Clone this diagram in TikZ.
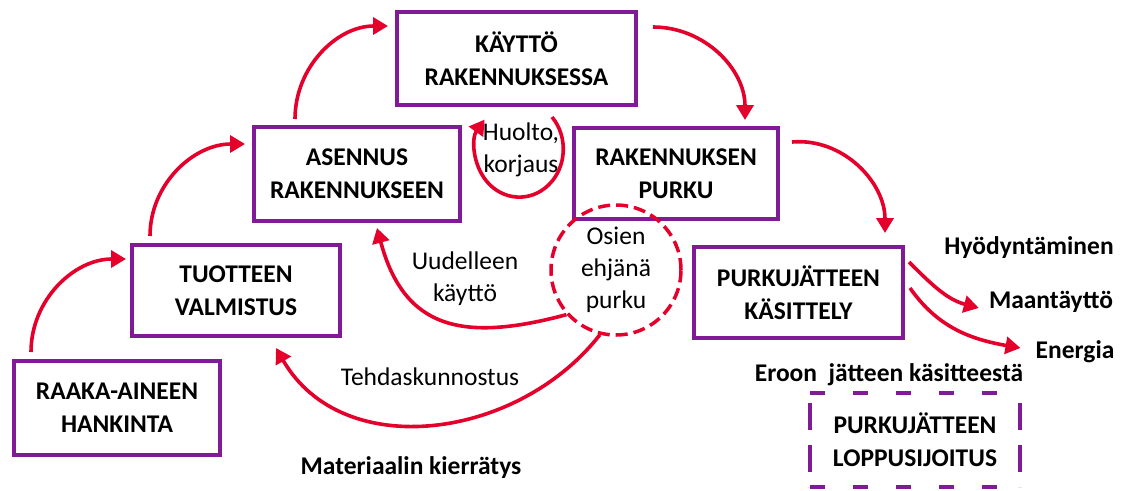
\documentclass[tikz,border=0pt]{standalone}
\usepackage{fontspec}
\setmainfont{Carlito}
\usetikzlibrary{arrows.meta}
\definecolor{purp}{RGB}{128,26,151}
\definecolor{flow}{RGB}{228,0,43}

\begin{document}
\begin{tikzpicture}[x=1pt,y=1pt,
  stage/.style={draw=purp, line width=4pt, inner sep=0pt, align=center,
    font=\fontsize{25.5}{33}\selectfont\bfseries},
  lbl/.style={inner sep=0pt, align=center, font=\fontsize{25.5}{32}\selectfont},
  lblb/.style={inner sep=0pt, align=center, font=\fontsize{25.5}{32}\selectfont\bfseries},
  arr/.style={draw=flow, line width=3.6pt, -{Triangle[length=15pt,width=17pt]}},
  purpdash/.style={draw=purp, line width=4.5pt},
]
\useasboundingbox (0,0) rectangle (1126,-490);

% life-cycle stages
\node[stage, minimum width=239pt, minimum height=93pt] (kaytto) at (516.5,-58.5) {KÄYTTÖ\\RAKENNUKSESSA};
\node[stage, minimum width=206pt, minimum height=94pt] (asennus) at (357,-174) {ASENNUS\\RAKENNUKSEEN};
\node[stage, minimum width=204pt, minimum height=91pt] (purku) at (676,-173.5) {RAKENNUKSEN\\PURKU};
\node[stage, minimum width=208pt, minimum height=91pt] (tuote) at (236,-290.5) {TUOTTEEN\\VALMISTUS};
\node[stage, minimum width=209pt, minimum height=91pt] (kasittely) at (798.5,-292.5) {PURKUJÄTTEEN\\KÄSITTELY};
\node[stage, minimum width=206pt, minimum height=94pt] (raaka) at (117,-408) {RAAKA-AINEEN\\HANKINTA};

% final disposal, dashed outline drawn side by side
\node[stage, draw=none, minimum width=206pt, minimum height=90pt] (loppu) at (915,-440) {PURKUJÄTTEEN\\LOPPUSIJOITUS};
\draw[purpdash, dash pattern=on 15pt off 28pt] (loppu.north west) -- (loppu.north east);
\draw[purpdash, dash pattern=on 15pt off 28pt] (loppu.south west) -- (loppu.south east);
\draw[purpdash, dash pattern=on 27pt off 15pt] ([yshift=-10pt]loppu.north west) -- (loppu.south west);
\draw[purpdash, dash pattern=on 27pt off 15pt] ([yshift=-10pt]loppu.north east) -- (loppu.south east);

% selective dismantling
\node[lbl, circle, draw=flow, line width=3.5pt, dash pattern=on 12pt off 6pt,
  minimum size=130pt] (osien) at (616,-270) {Osien\\ehjänä\\purku};

% labels
\node[lbl] (huolto) at (521,-150) {Huolto,\\korjaus};
\node[lbl] (uud) at (465,-279) {Uudelleen\\käyttö};
\node[lbl] (tehd) at (430,-377) {Tehdaskunnostus};
\node[lblb] (hyo) at (1029,-248) {Hyödyntäminen};
\node[lblb] (maa) at (1051,-302) {Maantäyttö};
\node[lblb] (ene) at (1075,-352) {Energia};
\node[lblb] (eroon) at (889,-375) {Eroon\ \ jätteen käsitteestä};
\node[lblb] (mat) at (411,-468) {Materiaalin kierrätys};

% main cycle
\draw[arr] ([shift={(-86,56)}]raaka.center) to[out=90,in=180] ([shift={(-110,31.5)}]tuote.center);
\draw[arr] ([shift={(-86,54.5)}]tuote.center) to[out=90,in=180] ([shift={(-112,30)}]asennus.center);
\draw[arr] ([shift={(-62,55)}]asennus.center) to[out=90,in=180] ([shift={(-128.5,32.5)}]kaytto.center);
\draw[arr] ([shift={(136.5,31.5)}]kaytto.center) to[out=0,in=90] ([shift={(69,53.5)}]purku.center);
\draw[arr] ([shift={(116,31.5)}]purku.center) to[out=5,in=90] ([shift={(86.5,59.5)}]kasittely.center);

% maintenance loop
\draw[arr] ([shift={(31,33)}]huolto.center) arc[start angle=42, end angle=-218, x radius=44pt, y radius=48pt];

% waste treatment outputs
\draw[arr] ([shift={(110.5,30.5)}]kasittely.center) to[out=-45,in=165] ([shift={(-10,-6)}]maa.west);
\draw[arr] ([shift={(111.5,4.5)}]kasittely.center) to[out=-55,in=170] ([shift={(-15,4)}]ene.west);

% reuse and remanufacturing
\draw[arr] (osien.222) to[out=195,in=-75,looseness=1.3] ([shift={(20,-54)}]asennus.center);
\draw[arr] (osien.256) to[out=232,in=-60,looseness=1.05] ([shift={(40,-57.5)}]tuote.center);
\end{tikzpicture}
\end{document}
